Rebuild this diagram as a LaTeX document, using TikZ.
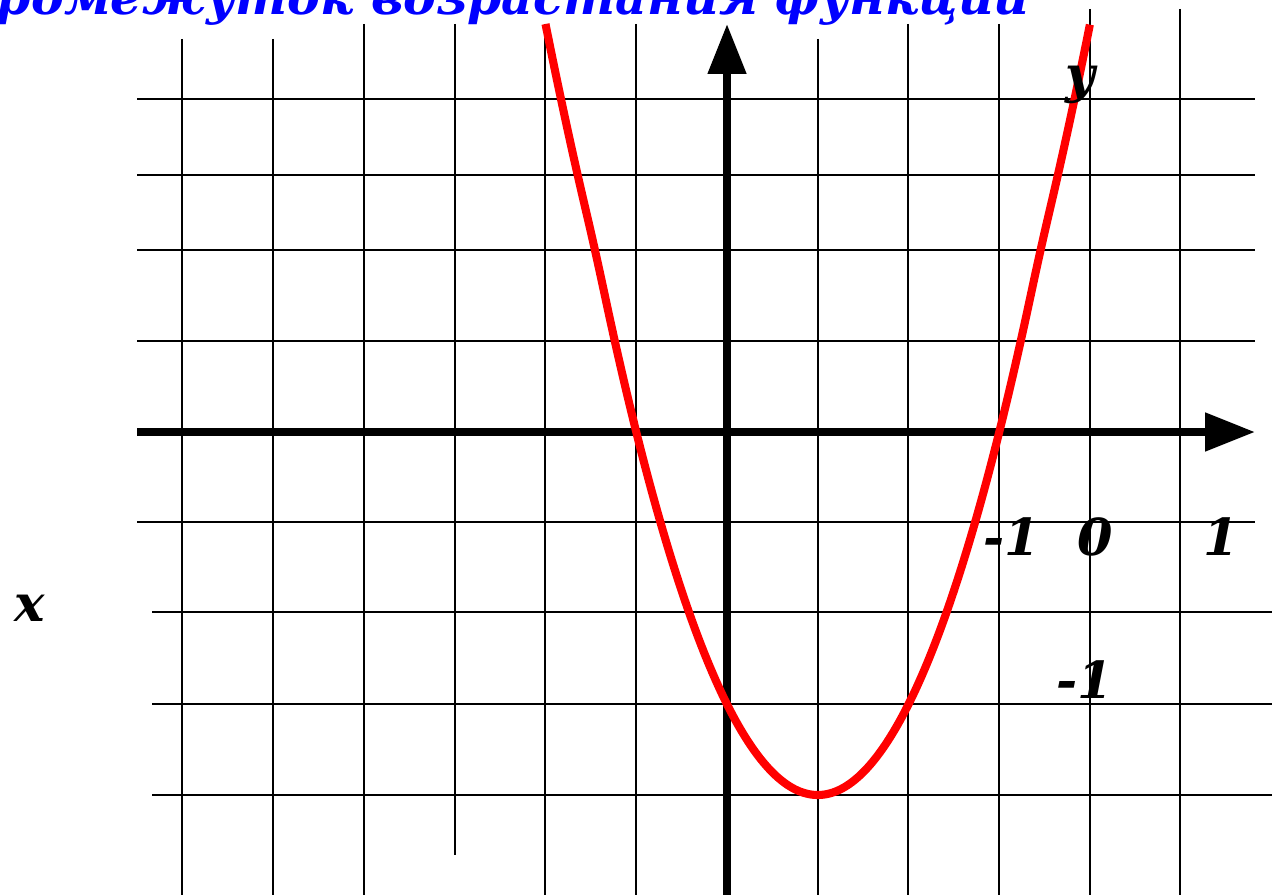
\documentclass[tikz,border=0pt]{standalone}
\usepackage{fontspec}
\setmainfont{DejaVu Serif}
\usetikzlibrary{arrows.meta}

\begin{document}
\begin{tikzpicture}[
    x=0.02cm, y=-0.02cm,
    declare function={pv(\t)=(\t-1)*(\t-1)-4;
                      hw(\v)=min(max(\v-1.5,0),1);
                      fy(\v)=90.75*\v-15.25*(0.5*hw(\v)*hw(\v)+max(\v-2.5,0));},
    gridline/.style={line width=1.1pt, black},
    axisline/.style={line width=4.6pt, black, -{Triangle[length=1cm, width=0.74cm]}},
    parab/.style={line width=4.6pt, red},
    lbl/.style={font=\fontsize{29}{34}\selectfont\bfseries\itshape, inner sep=0pt, anchor=base},
    title/.style={font=\fontsize{28}{33}\selectfont\bfseries\itshape, text=blue, inner sep=0pt, anchor=base east}
]
    \useasboundingbox (0,0) rectangle (1274,895);

    % grid
    \foreach \gx/\gtop/\gbot in {182/39/895, 273/39/895, 364/24/895, 455/24/855, 545/24/895, 636/24/895,
                                 818/39/895, 908/24/895, 999/24/895, 1090/9/895, 1180/9/895}
        \draw[gridline] (\gx,\gtop) -- (\gx,\gbot);
    \foreach \gy/\gl/\gr in {99/137/1255, 175/137/1255, 250/137/1255, 341/137/1255, 522/137/1255,
                             612/152/1272, 704/152/1272, 795/152/1272}
        \draw[gridline] (\gl,\gy) -- (\gr,\gy);

    % axes
    \coordinate (xstart) at (137,432);
    \coordinate (xend) at (1255,432);
    \coordinate (ystart) at (727,895);
    \coordinate (yend) at (727,24);
    \draw[axisline] (xstart) -- (xend);
    \draw[axisline] (ystart) -- (yend);

    % y = x^2 - 2x - 3
    \draw[parab] plot[domain=-2:4, samples=121, smooth]
        ({727+90.75*\x}, {432-fy(pv(\x))});

    \node[title] (head) at (1030,15) {промежуток возрастания функции};
    \node[lbl] (ylab) at (1080,93) {y};
    \node[lbl] (xlab) at (30,621) {x};
    \node[lbl] (mone) at (1012,555) {-1};
    \node[lbl] (zero) at (1095,555) {0};
    \node[lbl] (one) at (1221,555) {1};
    \node[lbl] (mtwo) at (1085,698) {-1};
\end{tikzpicture}
\end{document}
